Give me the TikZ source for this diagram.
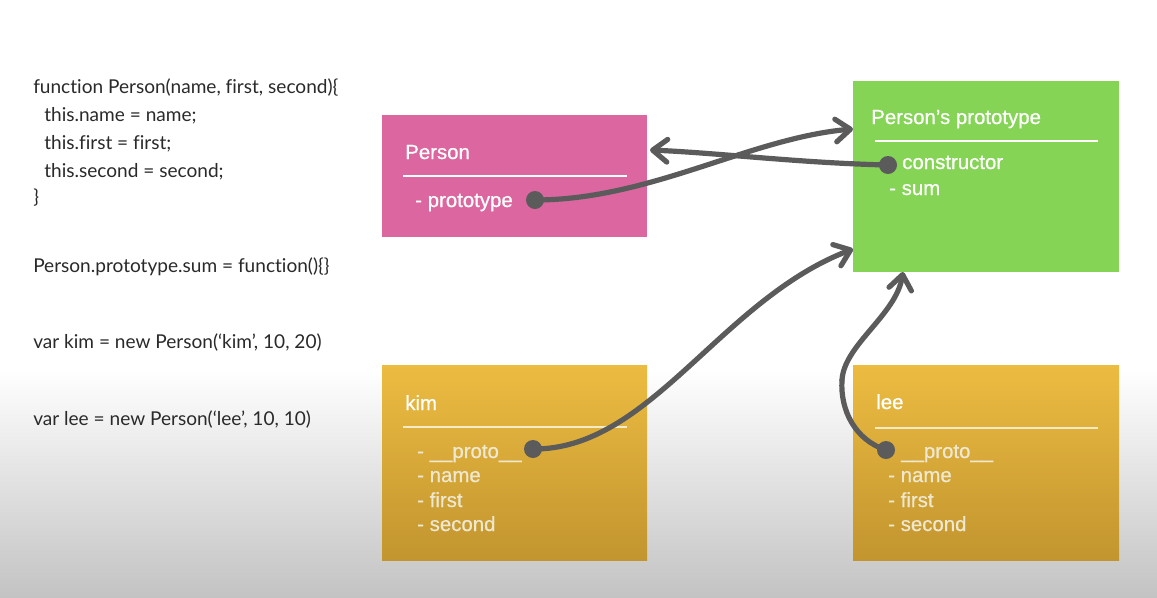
\documentclass[tikz,border=0pt]{standalone}
\usepackage{fontspec}
\setmainfont{Liberation Sans}
\newfontfamily\codefont{Lato}[Ligatures=NoCommon]
\newfontfamily\boxfont{Liberation Sans}[UprightFeatures={FakeBold=0.6}]
\usetikzlibrary{arrows.meta}
\definecolor{pinkbox}{HTML}{DC67A0}
\definecolor{greenbox}{HTML}{85D455}
\definecolor{goldtop}{HTML}{ECBC41}
\definecolor{goldbot}{HTML}{C2952F}
\definecolor{conncol}{HTML}{5B5B5B}
\definecolor{bgbot}{HTML}{C3C3C3}
\definecolor{creamtext}{HTML}{EFE8D0}
\definecolor{creamline}{HTML}{F3EBC6}
\definecolor{codecol}{HTML}{2A2A2A}
\begin{document}
\begin{tikzpicture}[x=0.75pt,y=-0.75pt,
  box/.style={rectangle, draw=none, inner sep=0pt, outer sep=0pt},
  goldbox/.style={box, top color=goldtop, bottom color=goldbot, minimum width=265*0.75pt, minimum height=195*0.75pt},
  code/.style={anchor=base west, inner sep=0pt, text=codecol, font=\codefont\fontsize{14.3}{16}\selectfont},
  title/.style={anchor=base west, inner sep=0pt, text=white, font=\boxfont\fontsize{15.3}{18}\selectfont},
  item/.style={anchor=base west, inner sep=0pt, text=white, font=\boxfont\fontsize{15.3}{18}\selectfont},
  citem/.style={item, text=creamtext},
  sepline/.style={line width=1.1pt, draw=white},
  csepline/.style={line width=1.1pt, draw=creamline},
  dot/.style={circle, fill=conncol, inner sep=0pt, minimum size=18*0.75pt},
  conn/.style={draw=conncol, line width=3.9pt, line cap=round, line join=round,
    -{Straight Barb[length=11pt,width=17pt,line cap=round,line join=round]}},
  plain/.style={draw=conncol, line width=3.9pt, line cap=round, line join=round}
]
\useasboundingbox (0,0) rectangle (1157,597);
\fill[white] (0,0) rectangle (1157,597);
\shade[top color=white, bottom color=bgbot] (0,370) rectangle (1157,597);

% code
\node[code] (c1) at (33,93) {function Person(name, first, second)\{};
\node[code] (c2) at (44,121.5) {this.name = name;};
\node[code] (c3) at (44,149) {this.first = first;};
\node[code] (c4) at (44,177) {this.second = second;};
\node[code] (c5) at (33,203) {\}};
\node[code] (c6) at (33,272) {Person.prototype.sum = function()\{\}};
\node[code] (c7) at (33,348) {var kim = new Person(‘kim’, 10, 20)};
\node[code] (c8) at (33,425) {var lee = new Person(‘lee’, 10, 10)};

% boxes
\node[box, fill=pinkbox, minimum width=265*0.75pt, minimum height=122*0.75pt] (person) at (514.5,176) {};
\node[box, fill=greenbox, minimum width=266*0.75pt, minimum height=191*0.75pt] (proto) at (986,176.5) {};
\node[goldbox] (kim) at (514.5,462.5) {};
\node[goldbox, minimum width=266*0.75pt] (lee) at (986,462.5) {};

% separators
\draw[sepline] (403,176) -- (627,176);
\draw[sepline] (875,141) -- (1098,141);
\draw[csepline] (403,427) -- (627,427);
\draw[csepline] (875,428) -- (1098,428);

% Person
\node[title] (ptitle) at (405,159) {Person};
\node[item] (pitem) at (415,207) {- prototype};
% prototype
\node[title] (prtitle) at (871,124) {Person’s prototype};
\node[item] (prcons) at (902,169) {constructor};
\node[item] (prsum) at (889,195) {- sum};
% kim
\node[title] (ktitle) at (405,410) {kim};
\node[citem] (kproto) at (417,458) {- \_\_proto\_\_};
\node[citem] (kname) at (417,482) {- name};
\node[citem] (kfirst) at (417,507) {- first};
\node[citem] (ksecond) at (417,531) {- second};
% lee
\node[title] (ltitle) at (876,409) {lee};
\node[citem] (lproto) at (901,458) {\_\_proto\_\_};
\node[citem] (lname) at (888,482) {- name};
\node[citem] (lfirst) at (888,507) {- first};
\node[citem] (lsecond) at (888,531) {- second};

% dots
\node[dot] (dprot) at (535,200) {};
\node[dot] (dcons) at (888,165) {};
\node[dot] (dkim) at (533,449) {};
\node[dot] (dlee) at (886,450) {};

% arrow ends
\coordinate (toproto1) at (853,129);
\coordinate (toperson) at (650,150);
\coordinate (toproto2) at (853,249);
\coordinate (toproto3) at (903,272);
\coordinate (leemid) at (842,380);

% connectors
\draw[conn] (dprot.center) .. controls (650,200) and (750,138) .. (toproto1);
\draw[conn] (dcons.center) .. controls (800,163) and (720,153) .. (toperson);
\draw[conn] (dkim.center) .. controls (650,450) and (720,300) .. (toproto2);
\draw[plain] (dlee.center) .. controls (855,440) and (840,410) .. (leemid);
\draw[conn] (leemid) .. controls (844,345) and (896,315) .. (toproto3);
\end{tikzpicture}
\end{document}
